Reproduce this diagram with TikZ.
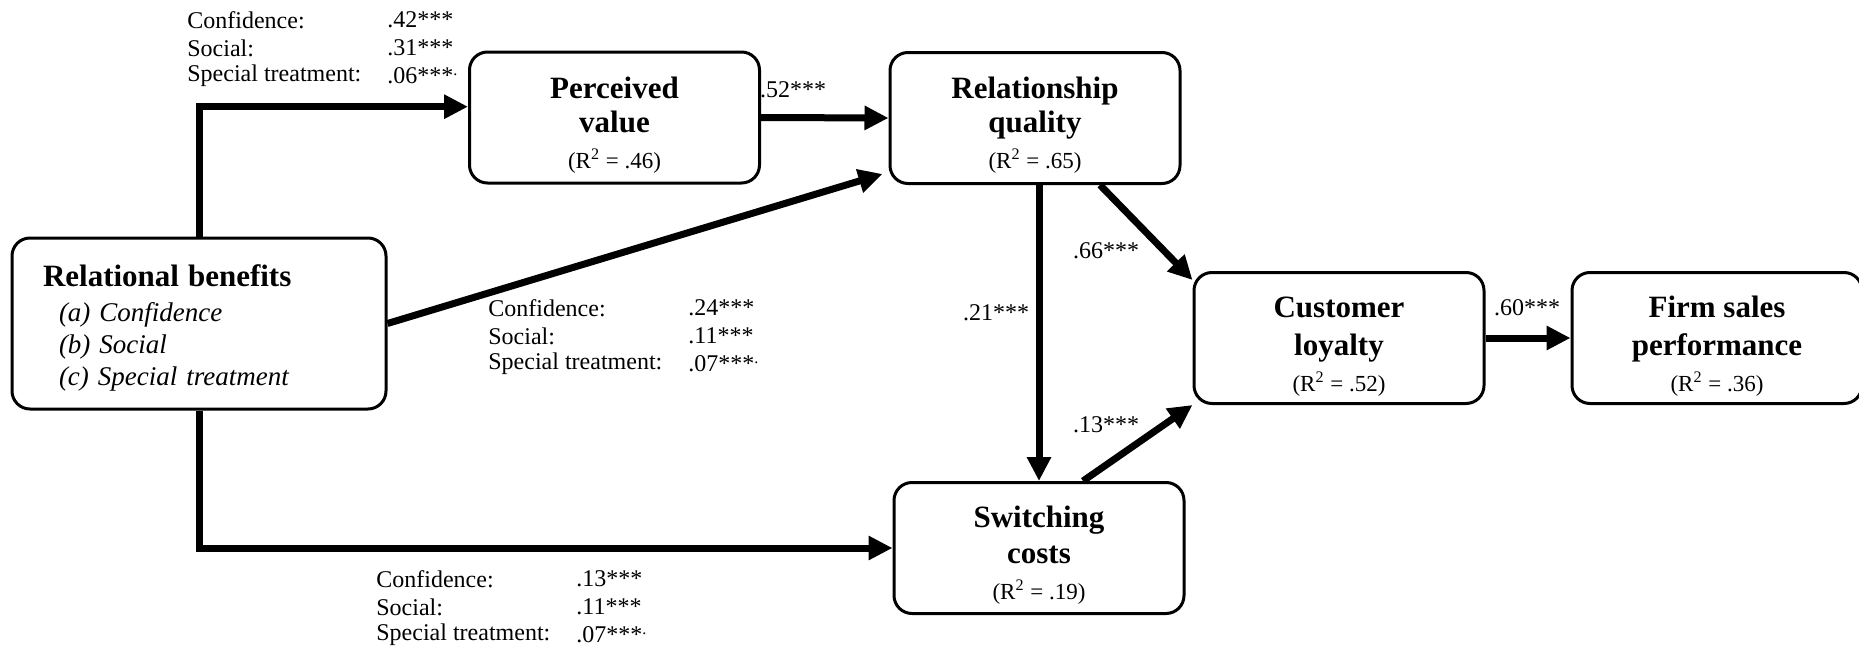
\documentclass[tikz,border=0pt]{standalone}
\usepackage{fontspec}
\setmainfont{Liberation Serif}
\usetikzlibrary{arrows.meta}

\newcommand{\rsq}[1]{{\mdseries\fontsize{11.5}{14}\selectfont (R\textsuperscript{2} = #1)}}
\newcommand{\topgap}[1]{\rule{0pt}{#1}}

\begin{document}
\begin{tikzpicture}[x=0.5pt, y=-0.5pt,
    box/.style={draw, line width=1.5pt, rounded corners=9pt, minimum width=145pt,
      minimum height=65.5pt, align=center, inner sep=0pt,
      font=\bfseries\fontsize{15.5}{17}\selectfont},
    arr/.style={line width=3.5pt, -{Triangle[length=12pt,width=11.5pt]}},
    coef/.style={anchor=west, inner sep=0pt, font=\fontsize{12}{14}\selectfont},
    lbl/.style={inner sep=0pt, font=\fontsize{12}{14}\selectfont}]
  \useasboundingbox (0,0) rectangle (1859,648);

  % constructs
  \node[box, minimum width=187pt, minimum height=85.5pt, align=left, text width=156pt,
    inner xsep=15.5pt, font=\fontsize{13.5}{16}\selectfont] (benefits) at (199,323.5)
    {\topgap{15.5pt}{\bfseries\fontsize{15.5}{17}\selectfont Relational benefits}\\[1.5pt]
     \hspace*{8pt}\itshape (a) Confidence\\ \hspace*{8pt}(b) Social\\ \hspace*{8pt}(c) Special treatment};
  \node[box] (value) at (614.5,117.5) {\topgap{18pt}Perceived\\value\\[1pt]\rsq{.46}};
  \node[box] (quality) at (1035,118) {\topgap{18pt}Relationship\\quality\\[1pt]\rsq{.65}};
  \node[box] (loyalty) at (1339,338) {\topgap{19pt}Customer\\[2pt]loyalty\\[1pt]\rsq{.52}};
  \node[box] (sales) at (1717,338) {\topgap{19pt}Firm sales\\[2pt]performance\\[1pt]\rsq{.36}};
  \node[box] (costs) at (1039,548) {\topgap{18pt}Switching\\[1pt]costs\\[1pt]\rsq{.19}};

  % paths
  \draw[arr] (benefits.north) |- ([yshift=5.4pt]value.west);
  \draw[arr] (benefits.south) |- (costs.west);
  \draw[arr] (benefits.east) -- ([xshift=-3pt,yshift=5.5pt]quality.south west);
  \draw[arr] (value.east) -- (quality.west);
  \draw[arr] (costs.north |- quality.south) -- (costs.north);
  \draw[arr] ([xshift=32.5pt]quality.south) -- ([yshift=-4.5pt]loyalty.north west);
  \draw[arr] ([xshift=22pt]costs.north) -- (loyalty.south west);
  \draw[arr] (loyalty.east) -- (sales.west);

  % path coefficients
  \node[lbl] (p52) at (793,90) {.52***};
  \node[lbl] (p21) at (996,313) {.21***};
  \node[lbl] (p66) at (1106,251) {.66***};
  \node[lbl] (p13) at (1106,424.5) {.13***};
  \node[lbl] (p60) at (1527,308) {.60***};

  % benefit-specific coefficients
  \foreach \n/\x/\y/\va/\vb/\vc in {top/187/20/.42/.31/.06, mid/488/308/.24/.11/.07, low/376/579/.13/.11/.07} {
    \node[coef] (\n-c) at (\x,\y) {Confidence:};
    \node[coef] (\n-s) at (\x,\y+28) {Social:};
    \node[coef] (\n-t) at (\x,\y+56) {Special treatment:};
    \node[coef] (\n-cv) at (\x+200,\y) {\va***};
    \node[coef] (\n-sv) at (\x+200,\y+28) {\vb***};
    \node[coef] (\n-tv) at (\x+200,\y+56) {\vc***\textsuperscript{.}};
  }
\end{tikzpicture}
\end{document}
